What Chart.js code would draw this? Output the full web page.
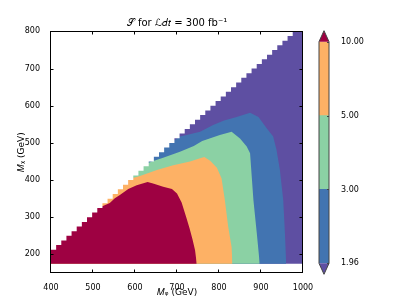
<!DOCTYPE html>
<html><head><meta charset="utf-8">
<script src="https://cdn.jsdelivr.net/npm/chart.js@4/dist/chart.umd.min.js"></script>
<style>
html,body{margin:0;padding:0;background:#fff}
#wrap{position:relative;width:407px;height:305px;overflow:hidden}
canvas{position:absolute;top:0}
</style>
</head><body>
<div id="wrap">
<canvas id="main" width="407" height="305" style="left:0"></canvas>
<canvas id="cbar" width="107" height="305" style="left:300px"></canvas>
</div>
<script>
// ---------- data ----------
const xTicks = [400, 500, 600, 700, 800, 900, 1000];
const yTicks = [200, 300, 400, 500, 600, 700, 800];
const levelLabels = ['1.96', '3.00', '5.00', '10.00'];
const underColor = '#5e4fa2';                        // S < 1.96
const bandColors = ['#4274b1', '#8bd1a4', '#fdb165']; // 1.96-3, 3-5, 5-10
const overColor = '#9e0142';                         // S > 10

// scan domain (grid of the parameter scan, kinematically allowed Mchi <= Mphi - gap)
const phiRange = [400, 1000];
const chiRange = [175, 800];
const phiCells = 49;
const chiStep = 12.5;
const massGap = 175.25;

// contour S = 1.96 (boundary between purple and blue)
const c196Phi = [400, 692, 707, 723, 755, 786, 812, 842, 874, 894, 914, 929, 937, 945, 953, 957, 960];
const c196Chi = [800, 506, 517, 521, 530, 548, 560, 570, 581, 570, 539, 517, 481, 427, 346, 257, 175];
// contour S = 3
const c3Phi = [400, 622, 640, 667, 707, 740, 760, 802, 830, 850, 866, 874, 878, 882, 890, 897];
const c3Chi = [800, 442, 450, 460, 476, 492, 505, 521, 530, 512, 490, 472, 409, 346, 257, 175];
// contour S = 5
const c5Phi = [400, 578, 590, 612, 652, 691, 731, 755, 765, 779, 795, 806, 814, 822, 830, 832];
const c5Chi = [800, 400, 404, 411, 427, 440, 450, 459, 462, 452, 433, 405, 346, 274, 220, 175];
// contour S = 10
const c10Phi = [400, 490, 517, 540, 552, 564, 584, 604, 630, 645, 667, 688, 700, 711, 722, 730, 737, 743, 747];
const c10Chi = [800, 318, 327, 338, 351, 360, 376, 386, 395, 390, 382, 376, 364, 340, 300, 270, 240, 211, 175];

// ---------- build ----------
const pts = (xs, ys) => xs.map((x, i) => ({x, y: ys[i]}));
const edge = [];
for (let k = 0; k <= phiCells; k++) {
  const phi = phiRange[0] + k * (phiRange[1] - phiRange[0]) / phiCells;
  const top = Math.min(chiRange[1], chiRange[0] + chiStep * Math.floor((phi - massGap - chiRange[0]) / chiStep));
  edge.push({x: phi, y: top});
}

Chart.defaults.font.family = "'DejaVu Sans', sans-serif";
Chart.defaults.color = '#000';
Chart.defaults.animation = false;

const band = (data, color, order) => ({
  data, order, showLine: true, borderWidth: 0, pointRadius: 0,
  backgroundColor: color, borderColor: color, fill: {value: chiRange[0]}
});

const frameTicks = {
  id: 'frameTicks',
  afterDraw(chart) {
    const {ctx, chartArea: a, scales: {x, y}} = chart;
    ctx.save();
    ctx.strokeStyle = '#000';
    ctx.lineWidth = 1;
    const L = Math.round(a.left) - 0.5, R = Math.round(a.right) - 0.5;
    const T = Math.round(a.top) + 0.5, B = Math.round(a.bottom) - 0.5;
    ctx.beginPath();
    xTicks.forEach(v => {
      const px = Math.round(x.getPixelForValue(v)) - 0.5;
      ctx.moveTo(px, B); ctx.lineTo(px, B - 3);
      ctx.moveTo(px, T); ctx.lineTo(px, T + 3);
    });
    yTicks.forEach(v => {
      const py = Math.round(y.getPixelForValue(v)) + 0.5;
      ctx.moveTo(L, py); ctx.lineTo(L + 3, py);
      ctx.moveTo(R, py); ctx.lineTo(R - 3, py);
    });
    ctx.stroke();
    ctx.strokeRect(L, T, R - L, B - T);
    ctx.restore();
  }
};

new Chart(document.getElementById('main'), {
  type: 'scatter',
  data: {
    datasets: [
      {data: edge, order: 0, showLine: true, stepped: true, borderWidth: 0, pointRadius: 0,
       backgroundColor: '#ffffff', borderColor: '#ffffff', fill: 'end'},
      band(pts(c10Phi, c10Chi), overColor, 1),
      band(pts(c5Phi, c5Chi), bandColors[2], 2),
      band(pts(c3Phi, c3Chi), bandColors[1], 3),
      band(pts(c196Phi, c196Chi), bandColors[0], 4),
      band(pts([phiRange[0], phiRange[1]], [chiRange[1], chiRange[1]]), underColor, 5)
    ]
  },
  options: {
    responsive: false,
    events: [],
    layout: {padding: {left: 0, right: 104, top: 0, bottom: 0}},
    plugins: {
      legend: {display: false},
      tooltip: {enabled: false},
      title: {
        display: true,
        fullSize: false,
        text: '𝒮 for ℒ𝑑𝑡 = 300 fb⁻¹',
        font: {size: 10, weight: 'normal'},
        padding: {top: 17, bottom: 2.4}
      }
    },
    scales: {
      x: {
        type: 'linear', min: 400, max: 1000,
        grid: {display: false}, border: {display: false},
        afterBuildTicks: s => { s.ticks = xTicks.map(v => ({value: v})); },
        afterFit: s => { s.height = 32; },
        ticks: {font: {size: 8}, padding: 2, maxRotation: 0, callback: v => String(v)},
        title: {display: true, text: '𝑀ᵩ (GeV)', font: {size: 9}, padding: {top: 0, bottom: 7}}
      },
      y: {
        type: 'linear', min: 150, max: 800,
        grid: {display: false}, border: {display: false},
        afterBuildTicks: s => { s.ticks = yTicks.map(v => ({value: v})); },
        afterFit: s => { s.width = 51; },
        ticks: {font: {size: 8}, padding: 3, callback: v => String(v)},
        title: {display: true, text: '𝑀ᵪ (GeV)', font: {size: 9}, padding: {top: 16, bottom: 0}}
      }
    }
  },
  plugins: [frameTicks]
});

// ---------- colorbar ----------
const cbarDeco = {
  id: 'cbarDeco',
  afterDatasetsDraw(chart) {
    const {ctx, chartArea: a, scales: {y}} = chart;
    const top = y.getPixelForValue(3), bot = y.getPixelForValue(0);
    const mid = (a.left + a.right) / 2, tri = 11;
    ctx.save();
    ctx.fillStyle = overColor;
    ctx.beginPath(); ctx.moveTo(a.left, top); ctx.lineTo(mid, top - tri); ctx.lineTo(a.right, top); ctx.closePath(); ctx.fill();
    ctx.fillStyle = underColor;
    ctx.beginPath(); ctx.moveTo(a.left, bot); ctx.lineTo(mid, bot + tri); ctx.lineTo(a.right, bot); ctx.closePath(); ctx.fill();
    ctx.strokeStyle = '#444'; ctx.lineWidth = 1;
    ctx.beginPath();
    ctx.moveTo(a.left, top); ctx.lineTo(mid, top - tri); ctx.lineTo(a.right, top);
    ctx.lineTo(a.right, bot); ctx.lineTo(mid, bot + tri); ctx.lineTo(a.left, bot); ctx.closePath();
    ctx.stroke();
    ctx.beginPath();
    [0, 1, 2, 3].forEach(v => {
      const py = Math.round(y.getPixelForValue(v)) + 0.5;
      ctx.moveTo(a.right, py); ctx.lineTo(a.right - 2, py);
    });
    ctx.stroke();
    ctx.restore();
  }
};

new Chart(document.getElementById('cbar'), {
  type: 'bar',
  data: {
    labels: ['S'],
    datasets: bandColors.map(c => ({data: [1], backgroundColor: c, borderWidth: 0,
      categoryPercentage: 1, barPercentage: 1}))
  },
  options: {
    responsive: false,
    events: [],
    layout: {padding: {left: 19, right: 0, top: 41.7, bottom: 41.7}},
    plugins: {legend: {display: false}, tooltip: {enabled: false}},
    scales: {
      x: {stacked: true, display: false},
      y: {
        stacked: true, position: 'right', min: 0, max: 3,
        grid: {display: false}, border: {display: false},
        afterBuildTicks: s => { s.ticks = [0, 1, 2, 3].map(v => ({value: v})); },
        afterFit: s => { s.width = 78; },
        ticks: {font: {size: 8}, padding: 4, callback: v => levelLabels[v]}
      }
    }
  },
  plugins: [cbarDeco]
});
</script>
</body></html>
